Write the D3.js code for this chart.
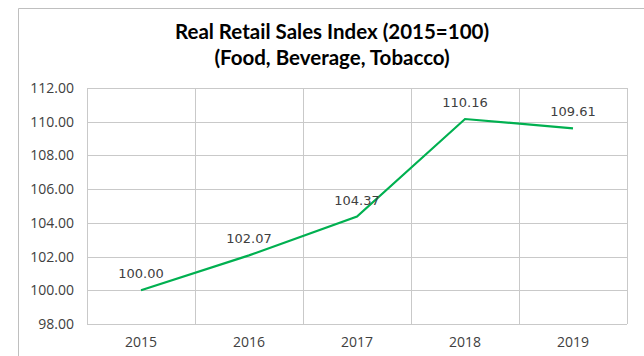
<!DOCTYPE html>
<html lang="en">
<head>
    <meta charset="UTF-8">
    <script src="https://cdnjs.cloudflare.com/ajax/libs/d3/7.8.5/d3.min.js"></script>
    <title>Real Retail Sales Index</title>
    <style>
        body { margin: 0; background: #fff; }
    </style>
</head>
<body>
    <div id="chart"></div>
    <script>
        var years = ["2015", "2016", "2017", "2018", "2019"];
        var salesIndex = [100.00, 102.07, 104.37, 110.16, 109.61];
        var yTicks = [98, 100, 102, 104, 106, 108, 110, 112];
        var titleLines = ["Real Retail Sales Index (2015=100)", "(Food, Beverage, Tobacco)"];

        var width = 644, height = 356;
        var plotLeft = 87, plotRight = 627, plotTop = 88, plotBottom = 324;

        var svg = d3.select("#chart").append("svg")
                    .attr("width", width)
                    .attr("height", height);

        // outer chart border (top + left visible)
        svg.append("path")
            .attr("d", "M18.5,356 L18.5,8.5 L644,8.5")
            .attr("fill", "none")
            .attr("stroke", "#bfbfbf")
            .attr("stroke-width", 1);

        var x = d3.scaleBand().domain(years).range([plotLeft, plotRight]);
        var y = d3.scaleLinear().domain([98, 112]).range([plotBottom, plotTop]);

        // horizontal grid
        svg.append("g")
            .selectAll("line")
            .data(yTicks)
            .enter().append("line")
            .attr("x1", plotLeft).attr("x2", plotRight)
            .attr("y1", function(d) { return Math.round(y(d)) + 0.5; })
            .attr("y2", function(d) { return Math.round(y(d)) + 0.5; })
            .attr("stroke", "#c9c9c9");

        // vertical grid at band edges
        var edges = years.map(function(d) { return x(d); }).concat([plotRight]);
        svg.append("g")
            .selectAll("line")
            .data(edges)
            .enter().append("line")
            .attr("x1", function(d) { return Math.round(d) + 0.5; })
            .attr("x2", function(d) { return Math.round(d) + 0.5; })
            .attr("y1", plotTop).attr("y2", plotBottom)
            .attr("stroke", "#c9c9c9");

        // y axis labels
        var yAxis = d3.axisLeft(y).tickValues(yTicks).tickFormat(d3.format(".2f")).tickSize(0).tickPadding(13);
        var gy = svg.append("g").attr("transform", "translate(" + plotLeft + ",0)").call(yAxis);
        gy.select(".domain").remove();
        gy.selectAll("text")
            .attr("font-family", "Open Sans, sans-serif")
            .attr("font-size", 14)
            .attr("fill", "#404040");

        // x axis labels
        var xAxis = d3.axisBottom(x).tickSize(0).tickPadding(13);
        var gx = svg.append("g").attr("transform", "translate(0," + plotBottom + ")").call(xAxis);
        gx.select(".domain").remove();
        gx.selectAll("text")
            .attr("font-family", "Open Sans, sans-serif")
            .attr("font-size", 14)
            .attr("fill", "#404040");

        var cx = function(d, i) { return x(years[i]) + x.bandwidth() / 2; };

        var line = d3.line()
                    .x(function(d, i) { return cx(d, i); })
                    .y(function(d) { return y(d); });

        svg.append("path")
            .datum(salesIndex)
            .attr("d", line)
            .attr("fill", "none")
            .attr("stroke", "#00b050")
            .attr("stroke-width", 2.2);

        // data labels
        svg.append("g")
            .selectAll("text")
            .data(salesIndex)
            .enter().append("text")
            .attr("x", cx)
            .attr("y", function(d) { return y(d) - 12; })
            .attr("text-anchor", "middle")
            .attr("font-family", "DejaVu Sans, sans-serif")
            .attr("font-size", 13)
            .attr("fill", "#404040")
            .text(function(d) { return d.toFixed(2); });

        // title
        svg.append("g")
            .selectAll("text")
            .data(titleLines)
            .enter().append("text")
            .attr("x", 332)
            .attr("y", function(d, i) { return 39 + i * 26; })
            .attr("text-anchor", "middle")
            .attr("font-family", "Lato, sans-serif")
            .attr("font-weight", "bold")
            .attr("font-size", 20.5)
            .attr("fill", "#000")
            .text(function(d) { return d; });
    </script>
</body>
</html>
